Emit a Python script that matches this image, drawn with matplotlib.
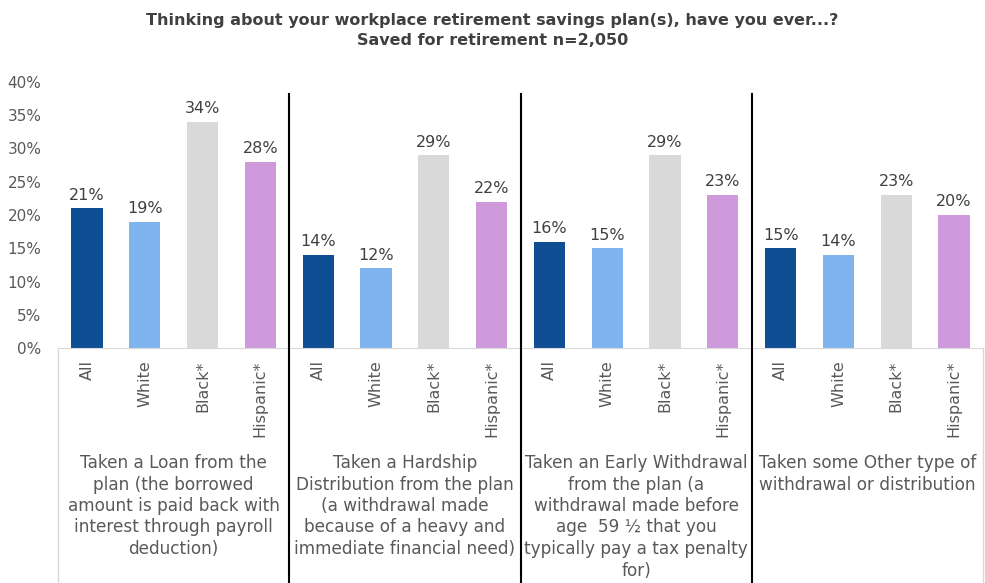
import matplotlib
matplotlib.use("Agg")
import matplotlib.pyplot as plt
import numpy as np

plt.rcParams['font.family'] = ['DejaVu Sans']

groups = [
    "Taken a Loan from the\nplan (the borrowed\namount is paid back with\ninterest through payroll\ndeduction)",
    "Taken a Hardship\nDistribution from the plan\n(a withdrawal made\nbecause of a heavy and\nimmediate financial need)",
    "Taken an Early Withdrawal\nfrom the plan (a\nwithdrawal made before\nage  59 \u00bd that you\ntypically pay a tax penalty\nfor)",
    "Taken some Other type of\nwithdrawal or distribution",
]
segments = ["All", "White", "Black*", "Hispanic*"]
values = [
    [21, 19, 34, 28],
    [14, 12, 29, 22],
    [16, 15, 29, 23],
    [15, 14, 23, 20],
]
seg_colors = ["#104E94", "#7FB4EE", "#D9D9D9", "#CE9ADC"]
yticks = [0, 5, 10, 15, 20, 25, 30, 35, 40]

title = ("Thinking about your workplace retirement savings plan(s), have you ever...?\n"
         "Saved for retirement n=2,050")

W, H = 985, 583
fig = plt.figure(figsize=(W / 100, H / 100), dpi=100)
ax = fig.add_axes([58 / W, 1 - 348 / H, (983 - 58) / W, (348 - 82) / H])

n_seg = len(segments)
xs, hs, cs, labels = [], [], [], []
for g, vals in enumerate(values):
    for s, v in enumerate(vals):
        xs.append(g * n_seg + s)
        hs.append(v)
        cs.append(seg_colors[s])
        labels.append(segments[s])

bars = ax.bar(xs, hs, width=0.54, color=cs, zorder=2)
for b, v in zip(bars, hs):
    ax.annotate(f"{v}%", (b.get_x() + b.get_width() / 2, v), xytext=(0, 4),
                textcoords="offset points", ha="center", va="bottom",
                fontsize=11.5, color="#404040")

ax.set_xlim(-0.5, len(xs) - 0.5)
ax.set_ylim(0, 40)
ax.set_yticks(yticks)
ax.set_yticklabels([f"{t}%" for t in yticks], fontsize=11, color="#595959")
ax.set_xticks(xs)
ax.set_xticklabels(labels, rotation=90, fontsize=11.5, color="#595959", va="top")
ax.tick_params(axis="both", length=0)
ax.tick_params(axis="x", pad=9)
ax.tick_params(axis="y", pad=12)
for side in ["left", "right", "top"]:
    ax.spines[side].set_visible(False)
ax.spines["bottom"].set_color("#D9D9D9")

# outline of the category label area below the axis
bottom_y = (348 - 583) / (348 - 82)
for x in [-0.5, len(xs) - 0.5]:
    ax.plot([x, x], [0, bottom_y], transform=ax.get_xaxis_transform(),
            color="#D9D9D9", lw=1, clip_on=False)

# dark separators between question groups
top_y = (348 - 94) / (348 - 82)
for g in range(1, len(groups)):
    x = g * n_seg - 0.5
    ax.plot([x, x], [bottom_y, top_y], transform=ax.get_xaxis_transform(),
            color="black", lw=1.5, clip_on=False, zorder=3)

# question labels under each group
label_y = (348 - 454) / (348 - 82)
for g, text in enumerate(groups):
    ax.text(g * n_seg + (n_seg - 1) / 2, label_y, text,
            transform=ax.get_xaxis_transform(), ha="center", va="top",
            fontsize=12.2, color="#595959", linespacing=1.25)

fig.text(0.5, 1 - 13 / H, title, ha="center", va="top", fontsize=11.5,
         fontweight="bold", color="#404040", linespacing=1.4)

fig.savefig("out.png", dpi=100)
